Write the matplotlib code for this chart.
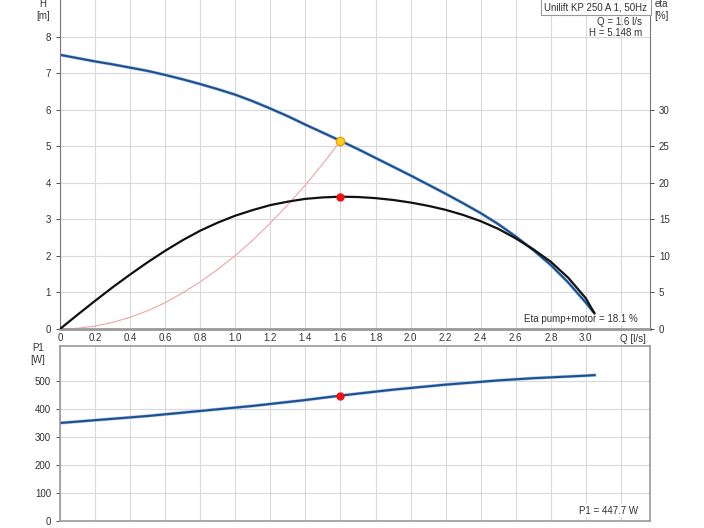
import matplotlib.pyplot as plt
import numpy as np

# pump curve data
q = [0, 0.1, 0.2, 0.3, 0.4, 0.5, 0.6, 0.7, 0.8, 0.9, 1.0, 1.1, 1.2, 1.3, 1.4, 1.5, 1.6,
     1.7, 1.8, 1.9, 2.0, 2.1, 2.2, 2.3, 2.4, 2.5, 2.6, 2.7, 2.8, 2.9, 3.0, 3.05]
h = [7.5, 7.41, 7.32, 7.24, 7.15, 7.06, 6.95, 6.83, 6.7, 6.56, 6.41, 6.23, 6.03, 5.82, 5.59, 5.37, 5.148,
     4.92, 4.68, 4.44, 4.2, 3.95, 3.7, 3.44, 3.17, 2.87, 2.53, 2.16, 1.75, 1.27, 0.72, 0.42]
eta = [0, 1.95, 3.85, 5.7, 7.45, 9.13, 10.7, 12.15, 13.45, 14.55, 15.5, 16.27, 16.95, 17.42, 17.8, 18.0, 18.1,
       18.05, 17.9, 17.65, 17.3, 16.85, 16.3, 15.6, 14.75, 13.7, 12.4, 10.9, 9.2, 7.0, 4.2, 2.1]
p1 = [350, 355, 360, 365, 370, 375, 381, 387, 393, 399, 405, 411, 418, 425, 432, 440, 447.7,
      455, 462, 469, 475, 481, 487, 492, 497, 502, 506, 510, 513, 516, 519, 521]

q_sys = [0, 0.1, 0.2, 0.3, 0.4, 0.5, 0.6, 0.7, 0.8, 0.9, 1.0, 1.1, 1.2, 1.3, 1.4, 1.5, 1.6]
h_sys = [0, 0.02, 0.08, 0.18, 0.32, 0.5, 0.72, 0.99, 1.29, 1.63, 2.01, 2.43, 2.9, 3.4, 3.94, 4.52, 5.148]

q_op = 1.6
h_op = 5.148
eta_op = 18.1
p1_op = 447.7

x_ticks = [0, 0.2, 0.4, 0.6, 0.8, 1.0, 1.2, 1.4, 1.6, 1.8, 2.0, 2.2, 2.4, 2.6, 2.8, 3.0]
x_labels = ['0', '0.2', '0.4', '0.6', '0.8', '1.0', '1.2', '1.4', '1.6', '1.8',
            '2.0', '2.2', '2.4', '2.6', '2.8', '3.0']

plt.rcParams['font.family'] = ['Liberation Sans', 'DejaVu Sans']
fig = plt.figure(figsize=(7.04, 5.28), dpi=100)
ax = fig.add_axes([60/704, 1-329/528, 590/704, 329/528])
ax2 = ax.twinx()
axp = fig.add_axes([60/704, 1-521/528, 590/704, 175/528])

grid_c = '#d9d9d9'
txt_c = '#333333'
blue = '#1d4e8f'
halo = '#a9c8e8'
fs = 7

xmax = 3.366
for a in (ax, axp):
    a.set_xlim(0, xmax)
    a.set_xticks(x_ticks + [3.2])
    a.grid(True, color=grid_c, lw=0.8)
    a.set_axisbelow(True)
    a.tick_params(labelsize=fs, colors=txt_c, length=3, width=0.6)

ax.set_ylim(0, 9)
ax.set_yticks(range(0, 9))
ax.set_xticklabels(x_labels + [''])
ax.spines['top'].set_visible(False)
ax.spines['left'].set_color('#777777')
ax.spines['right'].set_color('#777777')
ax.spines['bottom'].set_color('#999999')
ax.spines['bottom'].set_linewidth(2)
ax.tick_params(axis='x', length=0, pad=3)

ax2.set_ylim(0, 45)
ax2.set_yticks([0, 5, 10, 15, 20, 25, 30])
ax2.tick_params(labelsize=fs, colors=txt_c, length=3, width=0.6)
for s in ax2.spines.values():
    s.set_visible(False)

ax.plot(q_sys, h_sys, color='#f0a4a4', lw=0.8)
ax.plot(q, h, color=halo, lw=2.4, solid_capstyle='round')
ax.plot(q, h, color=blue, lw=1.5, solid_capstyle='round')
ax2.plot(q, eta, color='#111111', lw=1.6, solid_capstyle='round')
ax.plot([q_op], [h_op], 'o', color='#ffd21f', mec='#f0a000', ms=6, zorder=5)
ax2.plot([q_op], [eta_op], 'o', color='#ee1111', ms=5, zorder=5)

axp.set_ylim(0, 625)
axp.set_yticks([0, 100, 200, 300, 400, 500])
axp.set_xticklabels([])
axp.tick_params(axis='x', length=0)
for s in axp.spines.values():
    s.set_color('#999999')
    s.set_linewidth(1.2)
axp.plot(q, p1, color=halo, lw=2.4)
axp.plot(q, p1, color=blue, lw=1.5)
axp.plot([q_op], [p1_op], 'o', color='#ee1111', ms=5, zorder=5)

# labels
fig.text(43/704, 1-10/528, 'H\n[m]', fontsize=fs, color=txt_c, ha='center', va='center', linespacing=1.3)
fig.text(661/704, 1-10/528, 'eta\n[%]', fontsize=fs, color=txt_c, ha='center', va='center', linespacing=1.3)
fig.text(38/704, 1-354/528, 'P1\n[W]', fontsize=fs, color=txt_c, ha='center', va='center', linespacing=1.3)
fig.text(633/704, 1-339/528, 'Q [l/s]', fontsize=fs, color=txt_c, ha='center', va='center')
fig.text(596/704, 1-7/528, 'Unilift KP 250 A 1, 50Hz', fontsize=fs, color=txt_c, ha='center', va='center',
         bbox=dict(boxstyle='square,pad=0.35', fc='white', ec='#999999', lw=0.8))
fig.text(642/704, 1-22/528, 'Q = 1.6 l/s', fontsize=fs, color=txt_c, ha='right', va='center')
fig.text(642/704, 1-33/528, 'H = 5.148 m', fontsize=fs, color=txt_c, ha='right', va='center')
ax.text(0.98, 0.015, 'Eta pump+motor = 18.1 %', transform=ax.transAxes, fontsize=fs, color=txt_c,
        ha='right', va='bottom', bbox=dict(fc='white', ec='none', pad=1))
axp.text(0.98, 0.03, 'P1 = 447.7 W', transform=axp.transAxes, fontsize=fs, color=txt_c,
         ha='right', va='bottom', bbox=dict(fc='white', ec='none', pad=1))

fig.savefig('out.png', dpi=100)
